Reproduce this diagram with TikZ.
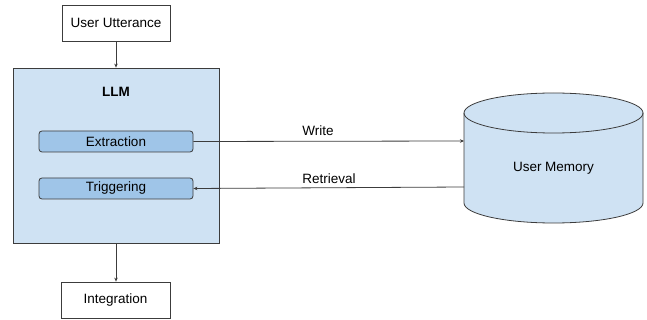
\documentclass[tikz,border=0pt]{standalone}
\usepackage{fontspec}
\setmainfont{Liberation Sans}
\usetikzlibrary{arrows.meta}
\definecolor{llmfill}{HTML}{CFE2F3}
\definecolor{subfill}{HTML}{9FC5E8}
\definecolor{edge}{HTML}{3C3C3C}
\tikzset{
  x=1pt, y=-1pt,
  txt/.style={font=\fontsize{13.5}{16}\selectfont, text=black},
  plainbox/.style={draw=edge, line width=0.8pt, fill=white, txt, inner sep=0pt},
  subbox/.style={draw=edge, line width=0.8pt, fill=subfill, rounded corners=3pt, txt, inner sep=0pt, minimum width=154pt, minimum height=21pt},
  conn/.style={draw=edge, line width=0.8pt, -{Stealth[length=4pt,width=3.5pt]}},
  lbl/.style={txt},
}
\begin{document}
\begin{tikzpicture}
\useasboundingbox (0,0) rectangle (647,320);
% LLM container
\node[draw=edge, line width=0.8pt, fill=llmfill, minimum width=206pt, minimum height=175pt, inner sep=0pt] (llm) at (116,155.5) {};
\node[txt, font=\fontsize{13.5}{16}\selectfont\bfseries] (llmt) at (116,92) {LLM};
\node[subbox] (ext) at (116,141.5) {Extraction};
\node[subbox] (trig) at (116,188.5) {Triggering};
% top and bottom boxes
\node[plainbox, minimum width=108pt, minimum height=36pt] (utt) at (116,23) {User Utterance};
\node[plainbox, minimum width=109pt, minimum height=36pt] (integ) at (115.5,300) {Integration};
% cylinder
\fill[llmfill] (464,113) -- (464,203) arc[start angle=180, end angle=0, x radius=89.5, y radius=20] -- (643,113) arc[start angle=0, end angle=-180, x radius=89.5, y radius=20] -- cycle;
\draw[edge, line width=0.8pt] (464,113) -- (464,203) arc[start angle=180, end angle=0, x radius=89.5, y radius=20] -- (643,113);
\draw[edge, line width=0.8pt] (553.5,113) ellipse[x radius=89.5, y radius=20];
\node[txt] (mem) at (553.5,168) {User Memory};
\coordinate (memW) at (464,141);
\coordinate (memR) at (464,187);
% connectors
\draw[conn] (utt.south) -- (llm.north);
\draw[conn] (llm.south) -- (llm.south |- integ.north);
\draw[conn] (ext.east) -- (memW);
\draw[conn] (memR) -- (trig.east);
\node[lbl] (wl) at (318,131) {Write};
\node[lbl] (rl) at (329,179) {Retrieval};
\end{tikzpicture}
\end{document}
